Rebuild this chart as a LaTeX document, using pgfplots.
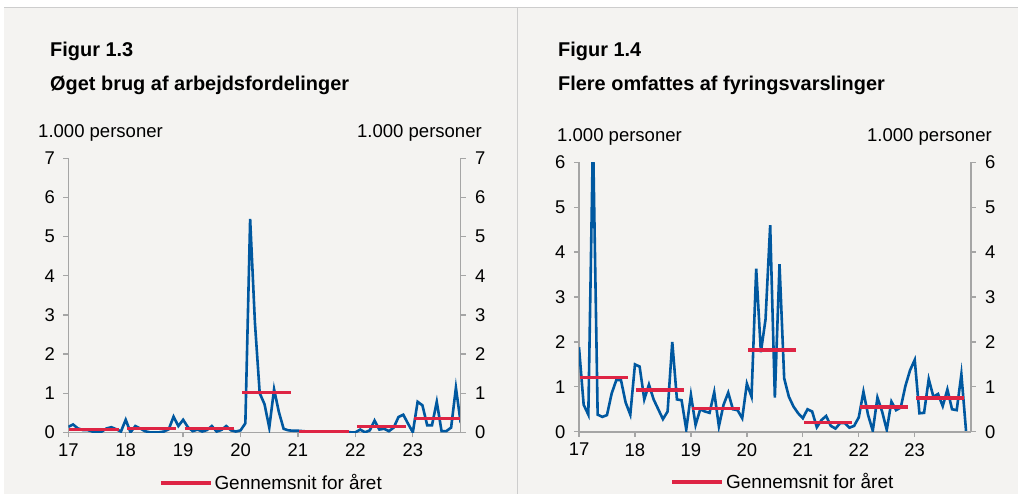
\documentclass[border=0pt]{standalone}
\usepackage{pgfplots}
\pgfplotsset{compat=1.18}
\usepackage{fontspec}
\setmainfont{Liberation Sans}
\definecolor{bg}{RGB}{244,243,241}
\definecolor{myblue}{RGB}{0,88,160}
\definecolor{myred}{RGB}{222,36,68}
\definecolor{axgray}{RGB}{165,165,165}
\definecolor{framegray}{RGB}{205,205,205}
\pgfplotsset{
  common/.style={
    scale only axis, anchor=south west,
    ymin=0, xmin=0,
    tick align=outside, major tick length=5bp,
    axis line style={axgray, line width=1.6bp, -},
    every tick/.style={axgray, line width=1.3bp},
    tick label style={font=\fontsize{18.5}{18.5}\selectfont, text=black},
    /pgf/number format/assume math mode=true,
  },
  leftax/.style={
    common,
    xtick={0,12,...,72}, xticklabels={17,18,19,20,21,22,23},
    axis x line*=bottom, axis y line*=left,
    yticklabel style={xshift=-5bp},
    xticklabel style={yshift=-3bp},
    unbounded coords=jump,
    legend style={draw=none, fill=none, font=\fontsize{19}{19}\selectfont, anchor=center, inner sep=0pt},
    legend image code/.code={\draw[##1] (0bp,0bp) -- (50bp,0bp);},
  },
  rightax/.style={
    common,
    axis x line=none, axis y line*=right,
    yticklabel style={xshift=6bp},
  },
}
\begin{document}
\begin{tikzpicture}
\path[use as bounding box] (0,0) rectangle (1018bp,-494bp);
\fill[white] (0,0) rectangle (1018bp,-494bp);
\fill[bg] (4bp,-7bp) rectangle (1018bp,-494bp);
\draw[framegray, line width=1bp] (4bp,-7bp) -- (1018bp,-7bp);
\draw[framegray, line width=1bp] (517bp,-7bp) -- (517bp,-494bp);

\node[anchor=base west, font=\bfseries\fontsize{20}{20}\selectfont, inner sep=0pt] at (50bp,-56bp) {Figur 1.3};
\node[anchor=base west, font=\bfseries\fontsize{20}{20}\selectfont, inner sep=0pt] at (50bp,-90bp) {Øget brug af arbejdsfordelinger};
\node[anchor=base west, font=\bfseries\fontsize{20}{20}\selectfont, inner sep=0pt] at (558bp,-56bp) {Figur 1.4};
\node[anchor=base west, font=\bfseries\fontsize{20}{20}\selectfont, inner sep=0pt] at (558bp,-90bp) {Flere omfattes af fyringsvarslinger};

\node[anchor=west, font=\fontsize{18.6}{18.6}\selectfont, inner sep=0pt] at (38bp,-133bp) {1.000 personer};
\node[anchor=east, font=\fontsize{18.6}{18.6}\selectfont, inner sep=0pt] at (482bp,-133bp) {1.000 personer};
\node[anchor=west, font=\fontsize{18.6}{18.6}\selectfont, inner sep=0pt] at (557bp,-137bp) {1.000 personer};
\node[anchor=east, font=\fontsize{18.6}{18.6}\selectfont, inner sep=0pt] at (992bp,-137bp) {1.000 personer};

% ---------- Figur 1.3 ----------
\begin{axis}[leftax, at={(68.3bp,-432.3bp)}, width=392.4bp, height=274bp,
  xmax=82, ymax=7, ytick={0,1,...,7},
  legend style={at={(0.518,-0.185)}}]
\addplot[myblue, line width=2.6bp, forget plot] coordinates {
(0,0.14)(1,0.20)(2,0.10)(3,0.06)(4,0.06)(5,0.02)(6,0.00)(7,0.02)(8,0.10)(9,0.13)(10,0.08)(11,0.02)
(12,0.32)(13,0.00)(14,0.16)(15,0.10)(16,0.03)(17,0.00)(18,0.00)(19,0.00)(20,0.02)(21,0.08)(22,0.40)(23,0.16)
(24,0.32)(25,0.13)(26,0.03)(27,0.07)(28,0.02)(29,0.06)(30,0.16)(31,0.02)(32,0.06)(33,0.16)(34,0.05)(35,0.02)
(36,0.05)(37,0.23)(38,5.45)(39,2.80)(40,1.00)(41,0.72)(42,0.12)(43,1.10)(44,0.52)(45,0.09)(46,0.05)(47,0.04)
(48,0.04)(49,0.03)(50,0.02)(51,0.02)(52,0.01)(53,0.01)(54,0.00)(55,0.00)(56,0.00)(57,0.00)(58,0.01)(59,0.00)
(60,0.00)(61,0.07)(62,0.00)(63,0.05)(64,0.30)(65,0.07)(66,0.09)(67,0.03)(68,0.12)(69,0.39)(70,0.45)(71,0.22)
(72,0.00)(73,0.78)(74,0.69)(75,0.18)(76,0.18)(77,0.78)(78,0.03)(79,0.03)(80,0.12)(81,1.14)(82,0.24)
};
\addplot[myred, line width=3.2bp] coordinates {
(0.2,0.07)(10.6,0.07)(11,nan)
(12.3,0.10)(22.6,0.10)(23,nan)
(24.3,0.09)(34.6,0.09)(35,nan)
(36.3,1.02)(46.6,1.02)(47,nan)
(48.3,0.015)(58.6,0.015)(59,nan)
(60.3,0.14)(70.6,0.14)(71,nan)
(72.3,0.36)(81.9,0.36)
};
\addlegendentry{Gennemsnit for året}
\end{axis}
\begin{axis}[rightax, at={(68.3bp,-432.3bp)}, width=392.4bp, height=274bp,
  xmax=82, ymax=7, ytick={0,1,...,7}]
\addplot[draw=none] coordinates {(0,0)};
\end{axis}

% ---------- Figur 1.4 ----------
\begin{axis}[leftax, at={(579bp,-431.7bp)}, width=391.7bp, height=269.4bp,
  xmax=84, ymax=6, ytick={0,1,...,6},
  legend style={at={(0.521,-0.187)}}]
\addplot[myblue, line width=2.6bp, forget plot] coordinates {
(0,1.88)(1,0.60)(2,0.38)(3,6.60)(4,0.38)(5,0.33)(6,0.37)(7,0.85)(8,1.15)(9,1.15)(10,0.65)(11,0.38)
(12,1.50)(13,1.45)(14,0.72)(15,1.05)(16,0.72)(17,0.50)(18,0.28)(19,0.45)(20,2.00)(21,0.72)(22,0.70)(23,0.05)
(24,0.82)(25,0.15)(26,0.50)(27,0.45)(28,0.42)(29,0.88)(30,0.12)(31,0.60)(32,0.87)(33,0.50)(34,0.48)(35,0.30)
(36,1.07)(37,0.78)(38,3.63)(39,1.77)(40,2.50)(41,4.60)(42,0.76)(43,3.73)(44,1.19)(45,0.78)(46,0.56)(47,0.41)
(48,0.30)(49,0.50)(50,0.45)(51,0.10)(52,0.26)(53,0.35)(54,0.13)(55,0.07)(56,0.19)(57,0.19)(58,0.09)(59,0.13)
(60,0.32)(61,0.89)(62,0.37)(63,0.02)(64,0.76)(65,0.45)(66,0.04)(67,0.67)(68,0.48)(69,0.54)(70,1.02)(71,1.37)
(72,1.60)(73,0.41)(74,0.42)(75,1.17)(76,0.78)(77,0.84)(78,0.57)(79,0.94)(80,0.50)(81,0.48)(82,1.28)(83,0.02)
};
\addplot[myred, line width=3.2bp] coordinates {
(0.2,1.20)(10.6,1.20)(11,nan)
(12.3,0.93)(22.6,0.93)(23,nan)
(24.3,0.52)(34.6,0.52)(35,nan)
(36.3,1.82)(46.6,1.82)(47,nan)
(48.3,0.21)(58.6,0.21)(59,nan)
(60.3,0.55)(70.6,0.55)(71,nan)
(72.3,0.75)(82.6,0.75)
};
\addlegendentry{Gennemsnit for året}
\end{axis}
\begin{axis}[rightax, at={(579bp,-431.7bp)}, width=391.7bp, height=269.4bp,
  xmax=84, ymax=6, ytick={0,1,...,6}]
\addplot[draw=none] coordinates {(0,0)};
\end{axis}
\end{tikzpicture}
\end{document}
